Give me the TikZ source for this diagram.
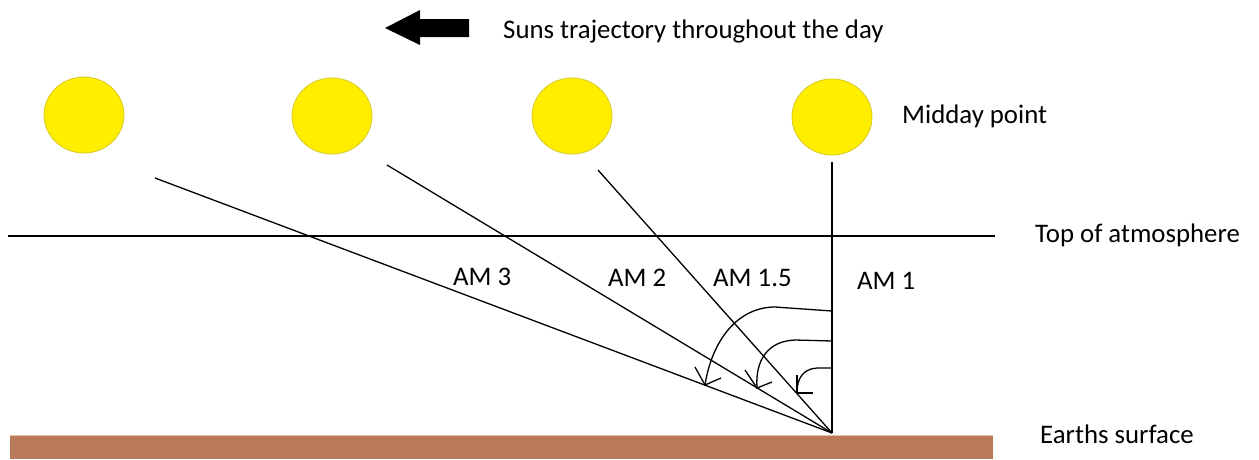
\documentclass[tikz,border=0pt]{standalone}
\usepackage{fontspec}
\setmainfont{Carlito}
\definecolor{sunfill}{RGB}{255,238,0}
\definecolor{sunedge}{RGB}{215,200,30}
\definecolor{ground}{RGB}{185,122,87}
\definecolor{groundtop}{RGB}{225,195,175}
\tikzset{
  lbl/.style={anchor=base west, inner sep=0pt, font=\fontsize{26.8}{30}\selectfont},
  sun/.style={ellipse, fill=sunfill, draw=sunedge, line width=0.8pt, minimum width=80pt, minimum height=76pt, inner sep=0pt},
  ray/.style={line width=1.3pt, black},
  turn/.style={line width=1.3pt, black, line join=miter},
}
\usetikzlibrary{shapes.geometric}
\begin{document}
\begin{tikzpicture}[x=1pt,y=-1pt]
\useasboundingbox (0,0) rectangle (1259,459);
% direction arrow
\fill[black] (385,28) -- (420,10) -- (420,19) -- (469,19) -- (469,37) -- (420,37) -- (420,45) -- cycle;
\node[lbl] (traj) at (503,38) {Suns trajectory throughout the day};
% suns
\node[sun] (s3) at (84,115) {};
\node[sun] (s2) at (332,116) {};
\node[sun] (s15) at (572,116) {};
\node[sun] (s1) at (832,117) {};
\node[lbl] (mid) at (902,123) {Midday point};
% atmosphere
\coordinate (atmL) at (8,236);
\coordinate (atmR) at (995,236);
\draw[line width=1.2pt] (atmL) -- (atmR);
\node[lbl] (top) at (1035,242) {Top of atmosphere};
% ground
\fill[ground] (10,435) rectangle (993,459);
\draw[groundtop, line width=1pt] (10,435) -- (993,435);
\node[lbl] (earth) at (1040,443) {Earths surface};
% rays
\coordinate (o) at (832,433);
\coordinate (r3) at (155,178);
\coordinate (r2) at (387,165);
\coordinate (r15) at (598,170);
\coordinate (r1) at (832,162);
\draw[ray] (r3) -- (o);
\draw[ray] (r2) -- (o);
\draw[ray] (r15) -- (o);
\draw[ray] (r1) -- (o);
% labels
\node[lbl] (am3) at (453,285) {AM 3};
\node[lbl] (am2) at (608,286) {AM 2};
\node[lbl] (am15) at (713,286) {AM 1.5};
\node[lbl] (am1) at (857,289) {AM 1};
% angle arcs
\coordinate (a1s) at (832,311);
\coordinate (a1t) at (705,385);
\coordinate (a2s) at (832,341);
\coordinate (a2t) at (757,388);
\coordinate (a3s) at (832,368);
\coordinate (a3t) at (797,393);
\draw[turn] (a1s) -- (775,307) .. controls (738,307) and (712,340) .. (a1t);
\draw[turn] (695,367) -- (a1t) -- (721,378);
\draw[turn] (a2s) -- (795,340) .. controls (768,341) and (755,360) .. (a2t);
\draw[turn] (745,370) -- (a2t) -- (772,382);
\draw[turn] (a3s) -- (817,368) .. controls (803,369) and (797,378) .. (a3t);
\draw[turn] (797,375) -- (a3t) -- (813,393);
\end{tikzpicture}
\end{document}
